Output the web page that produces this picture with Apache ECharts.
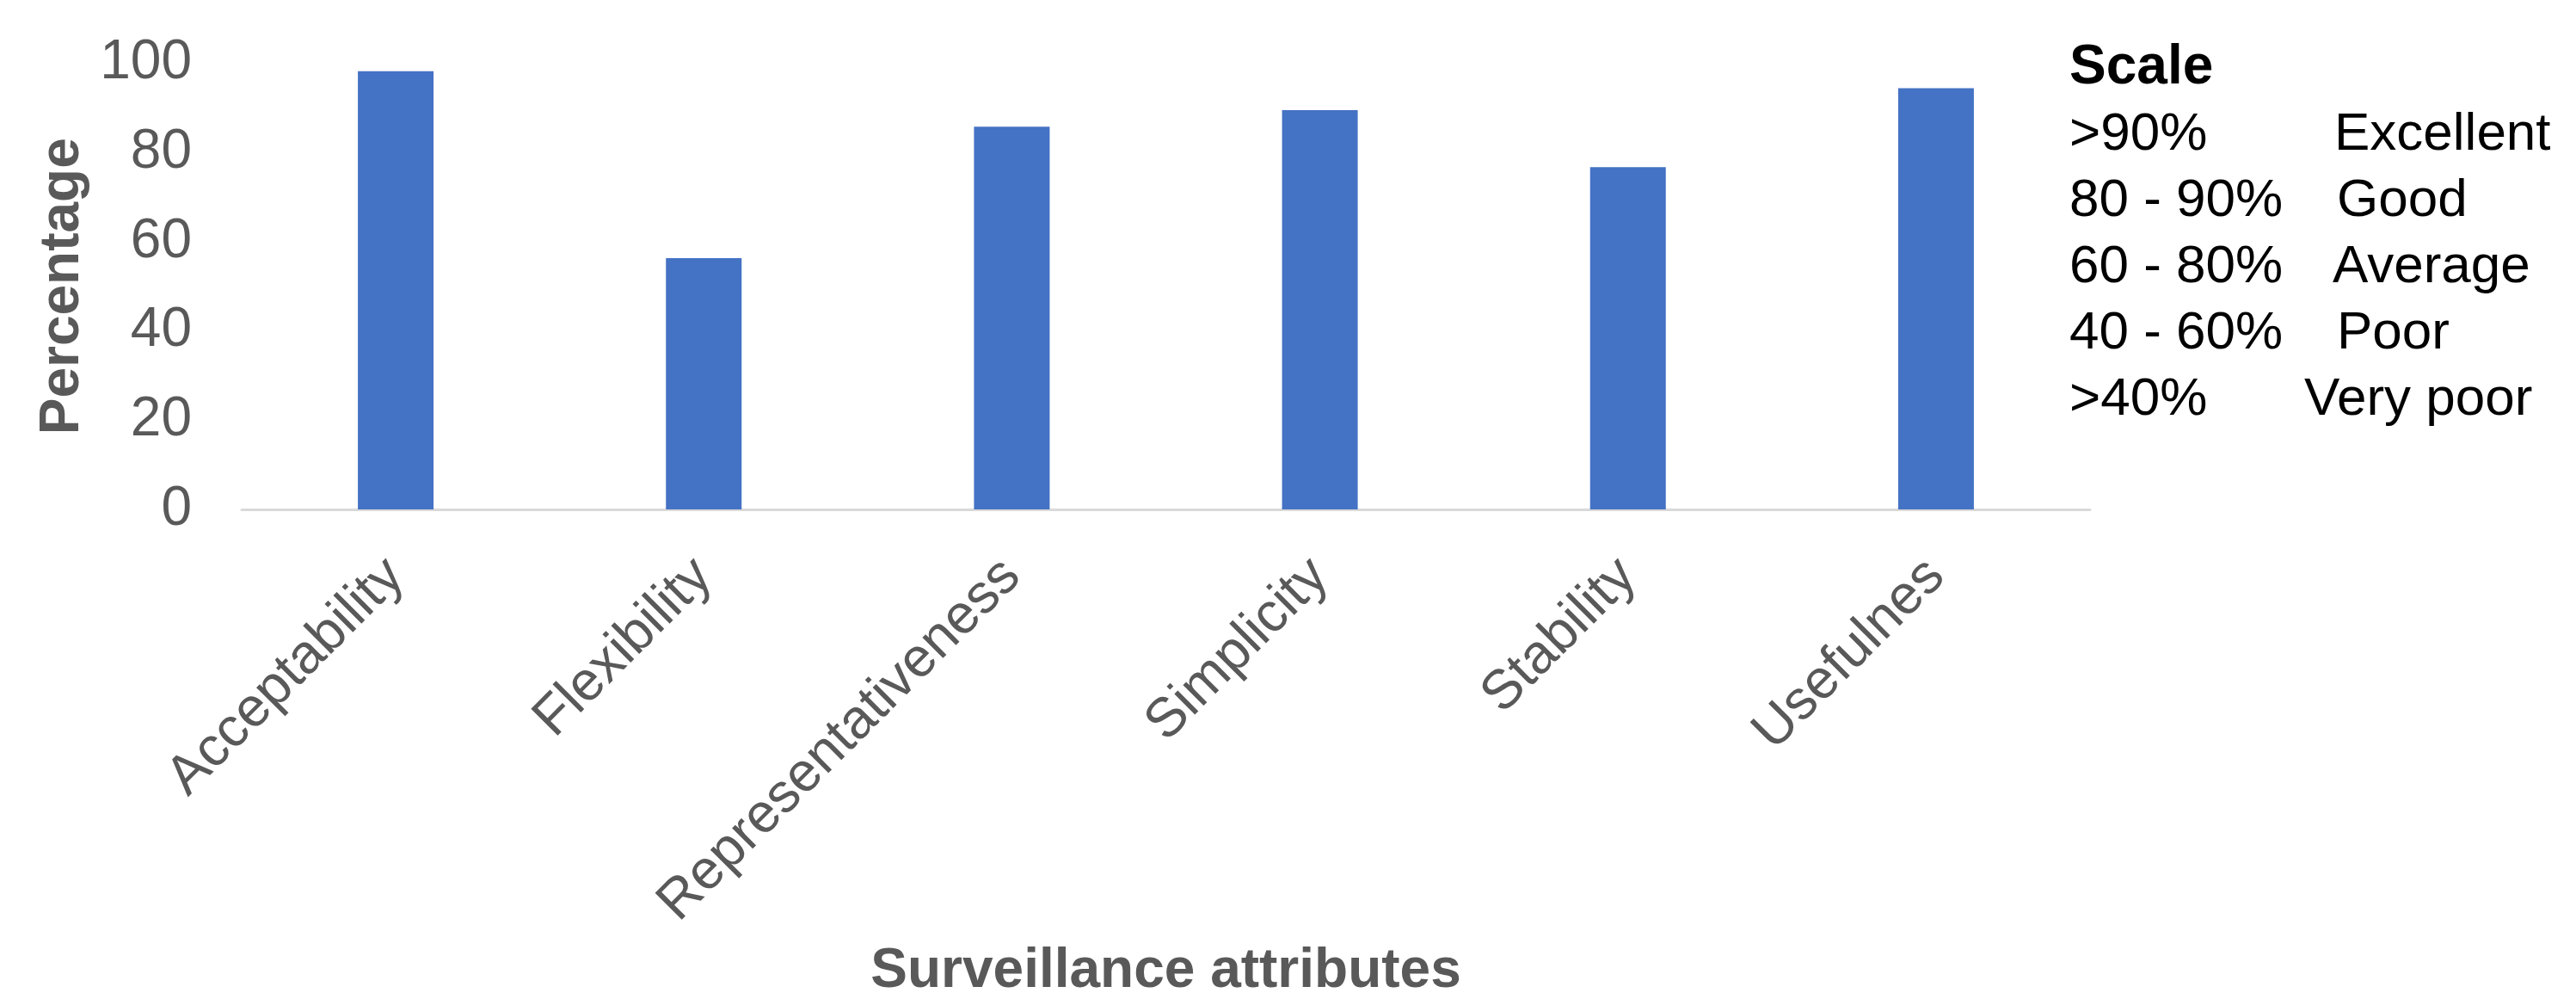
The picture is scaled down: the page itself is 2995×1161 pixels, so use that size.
<!DOCTYPE html>
<html lang="en">
<head>
    <meta charset="utf-8">
    <title>Surveillance attributes</title>
    <script src="https://cdn.jsdelivr.net/npm/echarts@6/dist/echarts.min.js"></script>
    <style>
        html, body { margin: 0; padding: 0; background: #fff; }
        #chart { width: 2995px; height: 1161px; }
    </style>
</head>
<body>
<div id="chart"></div>
<script>
    // data
    const categories = ['Acceptability', 'Flexibility', 'Representativeness', 'Simplicity', 'Stability', 'Usefulnes'];
    const percentValues = [98.2, 56.3, 85.8, 89.5, 76.7, 94.4];
    const yTicks = { min: 0, max: 100, interval: 20 };

    // scale legend text (two columns)
    const scaleRanges = ['>90%', '80 - 90%', '60 - 80%', '40 - 60%', '>40%'];
    const scaleGrades = ['Excellent', 'Good', 'Average', 'Poor', 'Very poor'];
    const gradeLeft = [2714, 2717, 2712, 2717, 2679];

    const chart = echarts.init(document.getElementById('chart'));
    const font = "'Liberation Sans', Arial, sans-serif";
    const grey = '#595959';

    // legend box built as text elements (y = top of the line box)
    let scaleTexts = [{
        type: 'text', x: 2406, y: 47,
        style: { text: 'Scale', font: 'bold 64px ' + font, fill: '#000' }
    }];
    scaleRanges.forEach((item, i) => {
        let top = 126 + i * 77;
        scaleTexts.push({
            type: 'text', x: 2406, y: top,
            style: { text: item, font: '62px ' + font, fill: '#000' }
        });
        scaleTexts.push({
            type: 'text', x: gradeLeft[i], y: top,
            style: { text: scaleGrades[i], font: '62px ' + font, fill: '#000' }
        });
    });

    const option = {
        animation: false,
        grid: { left: 281, right: 565, top: 73.5, bottom: 569, containLabel: false, outerBoundsMode: 'none' },
        xAxis: {
            type: 'category',
            data: categories,
            name: 'Surveillance attributes',
            nameLocation: 'middle',
            nameGap: 505,
            nameTextStyle: { fontFamily: font, fontSize: 64, fontWeight: 'bold', color: grey },
            axisLine: { lineStyle: { color: '#d9d9d9', width: 3 } },
            axisTick: { show: false },
            axisLabel: {
                rotate: 45,
                margin: 68,
                interval: 0,
                fontFamily: font,
                fontSize: 64,
                color: grey
            }
        },
        yAxis: {
            type: 'value',
            min: yTicks.min,
            max: yTicks.max,
            interval: yTicks.interval,
            name: 'Percentage',
            nameLocation: 'middle',
            nameGap: 170,
            nameTextStyle: { fontFamily: font, fontSize: 64, fontWeight: 'bold', color: grey },
            axisLine: { show: false },
            axisTick: { show: false },
            splitLine: { show: false },
            axisLabel: { margin: 58, fontFamily: font, fontSize: 64, color: grey }
        },
        series: [{
            type: 'bar',
            data: percentValues,
            barWidth: 88,
            itemStyle: { color: '#4472C4' }
        }],
        graphic: scaleTexts
    };

    chart.setOption(option);
</script>
</body>
</html>
